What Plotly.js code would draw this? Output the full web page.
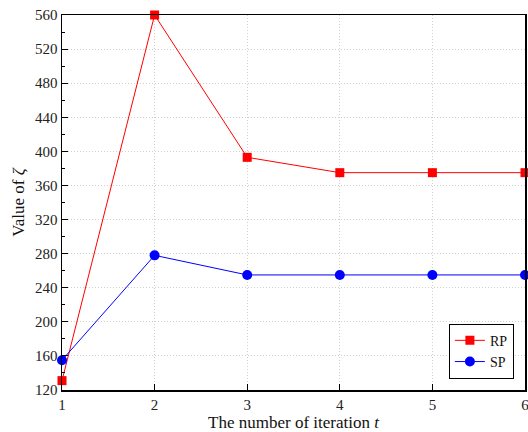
<!DOCTYPE html>
<html>
<head>
<meta charset="utf-8">
<script src="https://cdn.plot.ly/plotly-3.0.1.min.js"></script>
<style>
  html, body { margin: 0; padding: 0; background: #fff; }
  #chart { width: 528px; height: 432px; }
</style>
</head>
<body>
<div id="chart"></div>
<script>
// Iteration index and objective value for each scheme
const iterations = [1, 2, 3, 4, 5, 6];
const rpValues = [131, 560, 393, 375, 375, 375];
const spValues = [155, 278, 255, 255, 255, 255];
const seriesNames = ['RP', 'SP'];

const serif = 'Liberation Serif';

const traces = [
  {
    x: iterations, y: rpValues, name: seriesNames[0],
    type: 'scatter', mode: 'lines+markers',
    line: { color: '#ff0000', width: 1 },
    marker: { symbol: 'square', size: 9, color: '#ff0000' },
    cliponaxis: false
  },
  {
    x: iterations, y: spValues, name: seriesNames[1],
    type: 'scatter', mode: 'lines+markers',
    line: { color: '#0000ff', width: 1 },
    marker: { symbol: 'circle', size: 10, color: '#0000ff' },
    cliponaxis: false
  }
];

const layout = {
  width: 528, height: 432,
  margin: { l: 62, r: 3, t: 15, b: 42 },
  paper_bgcolor: '#ffffff', plot_bgcolor: '#ffffff',
  font: { family: serif, color: '#222', size: 14 },
  showlegend: true,
  legend: {
    x: 0.976, y: 0.03, xanchor: 'right', yanchor: 'bottom',
    bgcolor: '#ffffff', bordercolor: '#000', borderwidth: 1,
    font: { family: serif, size: 14, color: '#111' },
    tracegroupgap: 0, itemwidth: 30
  },
  xaxis: {
    range: [1, 6], dtick: 1, tick0: 1,
    showline: true, linecolor: '#000', linewidth: 1.5, mirror: true,
    ticks: 'inside', ticklen: 6, tickwidth: 1, tickcolor: '#000',
    showgrid: true, gridcolor: '#cfcfcf', griddash: '1px,2px', gridwidth: 1,
    zeroline: false, ticklabeloverflow: 'allow',
    tickfont: { family: serif, size: 15, color: '#222' },
    title: { text: 'The number of iteration <i>t</i>', font: { family: serif, size: 17, color: '#111' }, standoff: 6 }
  },
  yaxis: {
    range: [120, 560], dtick: 40, tick0: 120,
    showline: true, linecolor: '#000', linewidth: 1.5, mirror: true,
    ticks: 'inside', ticklen: 6, tickwidth: 1, tickcolor: '#000',
    minor: { dtick: 20, ticks: 'inside', ticklen: 3, tickcolor: '#000', showgrid: false },
    showgrid: true, gridcolor: '#cfcfcf', griddash: '1px,2px', gridwidth: 1,
    zeroline: false, ticklabeloverflow: 'allow',
    tickfont: { family: serif, size: 15, color: '#222' },
    title: { text: 'Value of <i>ζ</i>', font: { family: serif, size: 17, color: '#111' }, standoff: 6 }
  }
};

Plotly.newPlot('chart', traces, layout, { displayModeBar: false, staticPlot: true });
</script>
</body>
</html>
